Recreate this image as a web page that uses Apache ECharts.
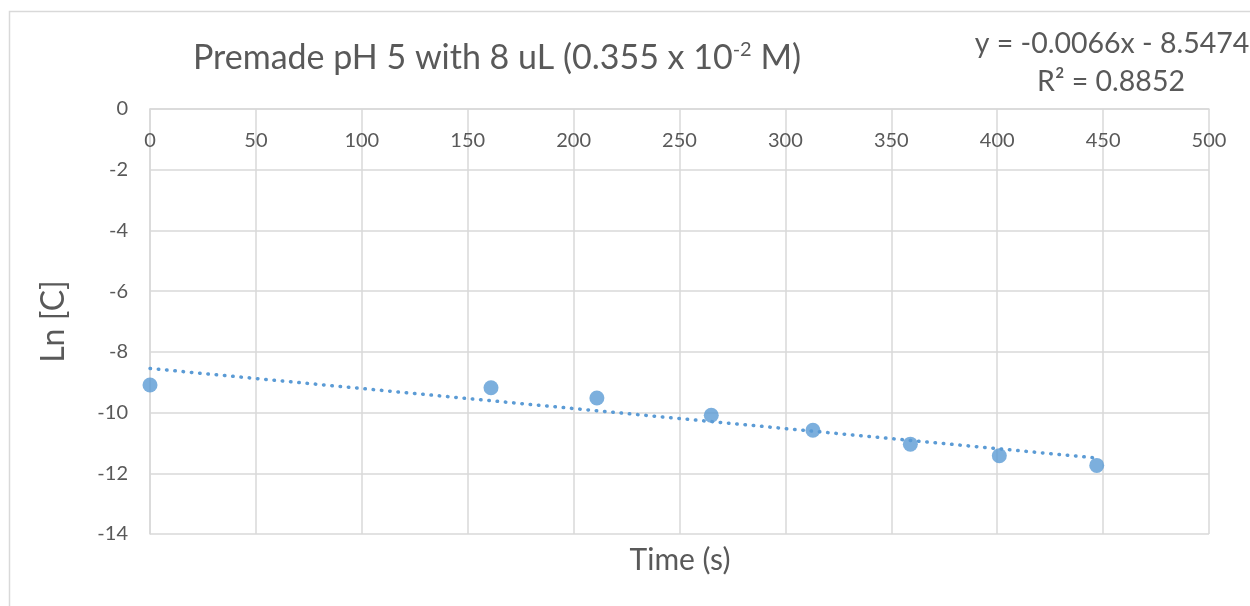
<!DOCTYPE html>
<html>
<head>
<meta charset="utf-8">
<script src="https://cdn.jsdelivr.net/npm/echarts@6/dist/echarts.min.js"></script>
<style>html,body{margin:0;padding:0;background:#fff}#c{width:1250px;height:606px}</style>
</head>
<body>
<div id="c"></div>
<script>
// ---- data ----
const timeS = [0, 161, 211, 265, 313, 359, 401, 447];
const lnC = [-9.09, -9.18, -9.52, -10.09, -10.58, -11.04, -11.42, -11.74];
const xTicks = [0, 50, 100, 150, 200, 250, 300, 350, 400, 450, 500];
const yTicks = [-14, -12, -10, -8, -6, -4, -2, 0];
const trendSlope = -0.0066;
const trendIntercept = -8.5474;
const trendR2 = 0.8852;

const FONT = 'Lato';
const TXT = '#595959';
const BLUE = '#5b9bd5';
const GRIDC = '#d9d9d9';

const points = timeS.map((t, i) => [t, lnC[i]]);
const tStart = timeS[0], tEnd = timeS[timeS.length - 1];
const trend = [[tStart, trendSlope * tStart + trendIntercept], [tEnd, trendSlope * tEnd + trendIntercept]];

const chart = echarts.init(document.getElementById('c'));
chart.setOption({
  animation: false,
  backgroundColor: '#fff',
  textStyle: { fontFamily: FONT },
  title: {
    text: '{a|Premade pH 5 with 8 uL (0.355 x 10}{s|-2}{a| M)}',
    left: 492, top: 35, textAlign: 'center',
    textStyle: {
      fontWeight: 'normal',
      rich: {
        a: { fontFamily: FONT, fontSize: 34, fontWeight: 'normal', color: TXT },
        s: { fontFamily: FONT, fontSize: 20, fontWeight: 'normal', color: TXT, verticalAlign: 'top', padding: [0, 0, 17, 0] }
      }
    }
  },
  grid: { left: 150, right: 41, top: 109, bottom: 72, containLabel: false },
  xAxis: {
    type: 'value', position: 'top', min: xTicks[0], max: xTicks[xTicks.length - 1], interval: 50,
    axisLine: { show: true, lineStyle: { color: GRIDC, width: 1.5 } },
    axisTick: { show: false },
    axisLabel: { inside: true, margin: 22, fontSize: 20, color: TXT, fontFamily: FONT,
      customValues: xTicks, showMinLabel: true, showMaxLabel: true },
    splitLine: { show: true, lineStyle: { color: GRIDC, width: 1.5 } }
  },
  yAxis: {
    type: 'value', min: yTicks[0], max: yTicks[yTicks.length - 1], interval: 2,
    name: 'Ln [C]', nameLocation: 'middle', nameGap: 80,
    nameTextStyle: { fontSize: 32, color: TXT, fontFamily: FONT },
    axisLine: { show: true, lineStyle: { color: GRIDC, width: 1.5 } },
    axisTick: { show: false },
    axisLabel: { margin: 22, fontSize: 20, color: TXT, fontFamily: FONT },
    splitLine: { show: true, lineStyle: { color: GRIDC, width: 1.5 } }
  },
  graphic: [
    { type: 'rect', silent: true, z: -1, shape: { x: 9.5, y: 11.5, width: 1400, height: 800 },
      style: { fill: null, stroke: GRIDC, lineWidth: 1.5 } },
    { type: 'text', x: 680, y: 560, style: { text: 'Time (s)', fontFamily: FONT, fontSize: 30, fill: TXT, align: 'center', verticalAlign: 'middle' } },
    { type: 'text', x: 1112, y: 44, style: { text: 'y = ' + trendSlope.toFixed(4) + 'x - ' + Math.abs(trendIntercept).toFixed(4), fontFamily: FONT, fontSize: 28.5, fill: TXT, align: 'center', verticalAlign: 'middle' } },
    { type: 'text', x: 1111, y: 82, style: { text: 'R² = ' + trendR2.toFixed(4), fontFamily: FONT, fontSize: 28.5, fill: TXT, align: 'center', verticalAlign: 'middle' } }
  ],
  series: [
    { type: 'line', data: trend, symbol: 'none', silent: true, z: 1,
      lineStyle: { color: BLUE, width: 3.5, type: [0.5, 7.8], cap: 'round' } },
    { type: 'scatter', data: points, symbol: 'circle', symbolSize: 15, z: 2,
      itemStyle: { color: BLUE } }
  ]
});
</script>
</body>
</html>
